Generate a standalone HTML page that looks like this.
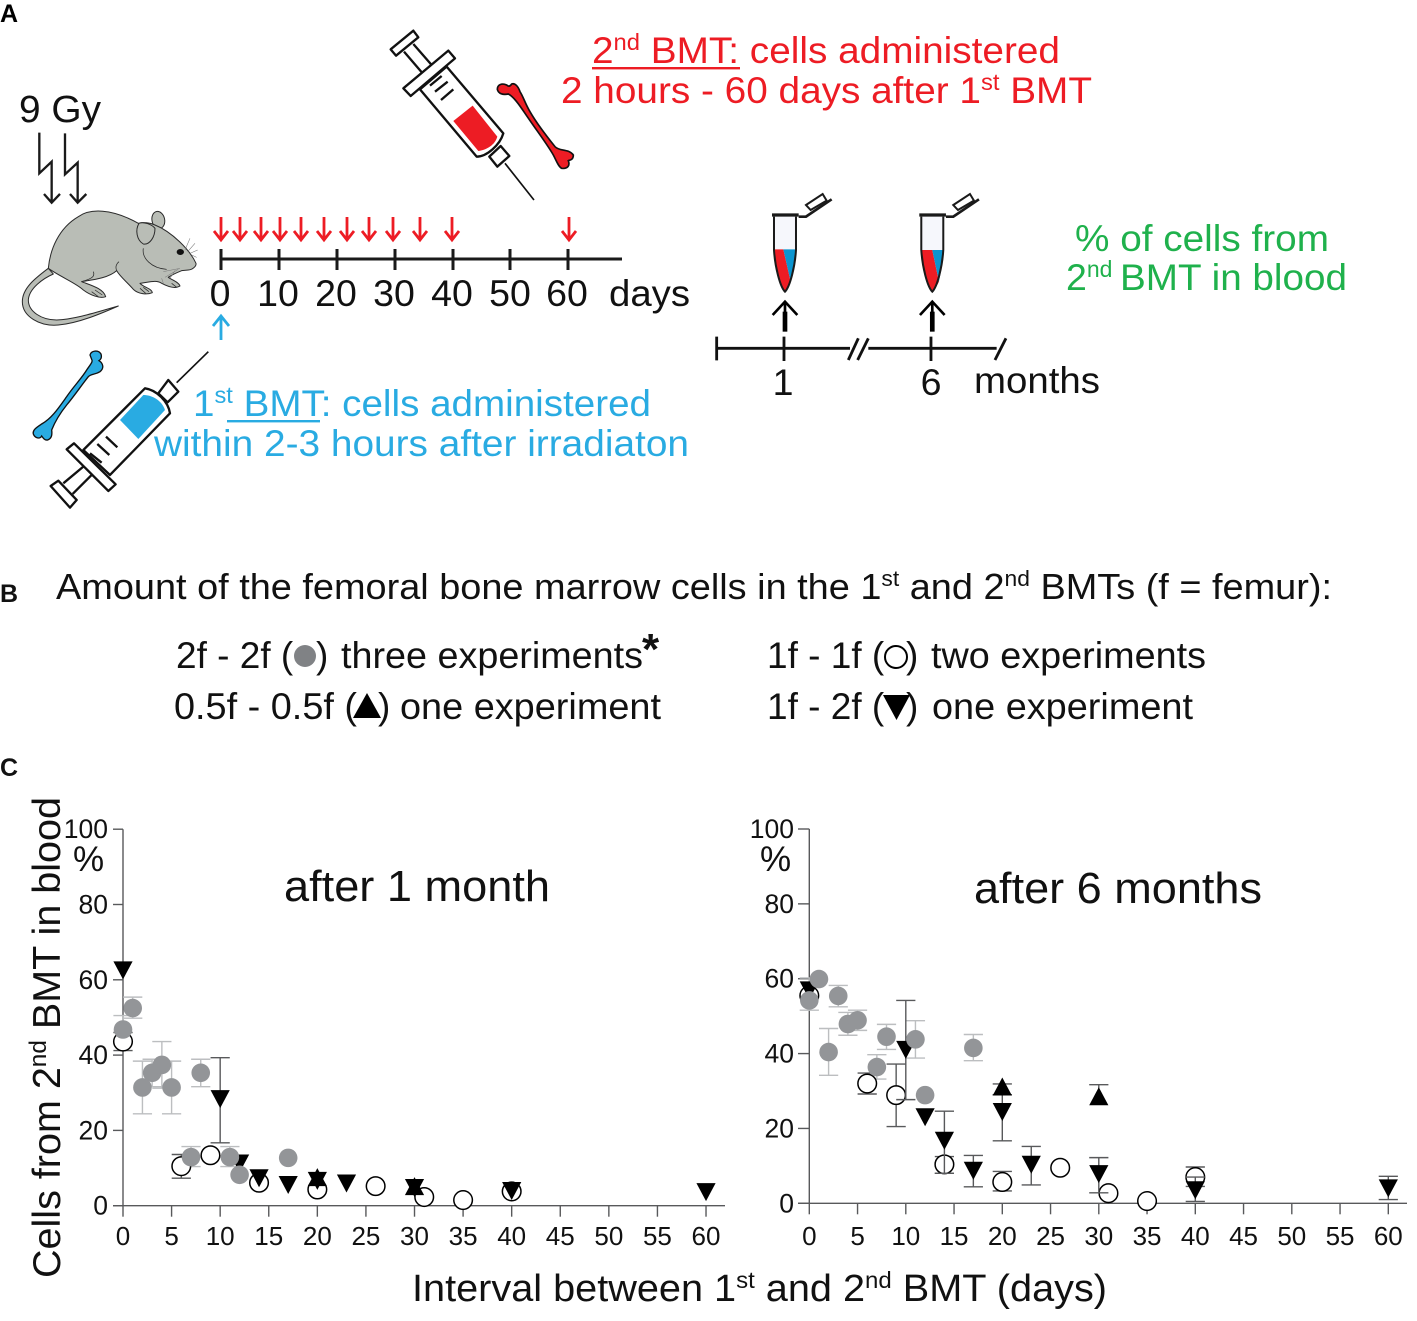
<!DOCTYPE html>
<html lang="en">
<head>
<meta charset="utf-8">
<title>BMT interval figure</title>
<style>
html,body{margin:0;padding:0;background:#fff;}
svg{display:block;}
text{font-family:"Liberation Sans",Arial,sans-serif;}
</style>
</head>
<body>
<svg id="fig" xmlns="http://www.w3.org/2000/svg" width="1417" height="1321" viewBox="0 0 1417 1321">
<rect width="1417" height="1321" fill="#fff"/>

<!-- PANEL A -->
<g>
<text x="0" y="22" font-size="25" font-weight="bold">A</text>
<text x="19" y="122" font-size="38" fill="#111" textLength="82" lengthAdjust="spacingAndGlyphs">9 Gy</text>

<g transform="translate(0,80) scale(.3333)" fill="none" stroke="#1a1a1a" stroke-width="7">
<path d="M118 158V280L155 245V368M132 342L155 368L180 342"/>
<path d="M195 160V283L233 248V368M210 342L233 368L259 342"/>
</g>

<g transform="translate(15,200) scale(.3333)" stroke="#2a2a2a" stroke-width="3" fill="#b9bdb6" stroke-linejoin="round">
<path d="M100 205C60 235 22 265 22 305C22 350 75 380 130 375C190 370 260 340 310 318C250 335 180 358 125 360C80 360 40 335 40 300C42 265 85 235 115 222Z"/>
<ellipse cx="430" cy="60" rx="19" ry="26" transform="rotate(-12 430 60)"/>
<path d="M100 205C105 150 130 85 190 50C225 25 290 25 370 70C385 66 405 68 420 75C470 95 525 150 543 190C545 200 530 210 520 210L500 212C480 220 470 225 460 232C470 240 490 245 495 258C480 268 455 258 440 250C425 240 410 245 375 250C385 262 410 265 412 278C395 285 370 282 355 268C335 245 315 230 305 212C280 235 230 240 200 245C225 255 265 265 272 290C255 297 225 285 205 270C185 250 135 230 100 205Z"/>
<path d="M372 70C360 90 365 120 385 132C405 135 420 110 420 85C410 72 385 65 372 70Z"/>
<path d="M385 145C380 175 410 205 455 208M235 215C240 228 235 235 200 245M305 212C300 200 305 190 312 185M230 275L250 290M240 270L262 285M375 265L392 280M385 262L402 275M470 250L485 262" fill="none" stroke-width="2.2"/>
<ellipse cx="496" cy="156" rx="11" ry="9" fill="#111" stroke="none"/>
<path d="M510 150L525 115M518 155L540 130M525 160L548 150M530 165L545 172M495 205L445 215M490 208L450 232M480 212L465 235M440 235L445 250" fill="none" stroke-width="1.6" stroke="#777"/>
</g>

<g transform="translate(380,20) scale(.3333)" fill="#fff" stroke="#111" stroke-width="7" stroke-linejoin="round">
<path d="M375 430L462 540" stroke-width="5"/>
<path d="M328 410L352 440L388 408L362 378Z"/>
<path d="M72 95L128 160M100 72L155 135" fill="none"/>
<path d="M32 88L100 32L115 52L48 107Z"/>
<path d="M120 208L290 410C320 410 360 375 370 340L200 140Z"/>
<path d="M70 205L205 92L225 115L92 228Z"/>
<path d="M220 303L278 257L352 350C345 375 320 390 295 393Z" fill="#ed1c24" stroke="none"/>
<path d="M150 197L185 168M165 215L203 185M183 240L220 208" fill="none"/>
</g>
<path transform="translate(490,70) scale(.3333)" d="M22 58C22 45 35 38 50 45C55 50 60 50 65 42C75 38 85 50 90 65C100 80 105 100 120 125C140 160 175 205 195 230C210 245 235 235 250 255C250 270 240 270 235 272C240 285 235 297 215 295C205 290 198 270 190 255C170 220 135 175 105 130C85 100 70 80 55 72C40 75 25 72 22 58Z" fill="#ed1c24" stroke="#111" stroke-width="5"/>

<g transform="translate(20,340) scale(.3333)" fill="#fff" stroke="#111" stroke-width="7" stroke-linejoin="round">
<path d="M470 128L565 35" stroke-width="5"/>
<path d="M415 160L445 120L475 155L443 187Z"/>
<path d="M130 430L190 380M158 462L215 405" fill="none"/>
<path d="M92 438L115 422L170 480L150 503Z"/>
<path d="M190 330L375 145C410 150 445 185 450 220L270 405Z"/>
<path d="M140 328L162 310L287 433L265 453Z"/>
<path d="M300 240L370 165C395 165 425 180 435 210L355 297Z" fill="#29abe2" stroke="none"/>
<path d="M210 340L245 368M232 312L268 345M258 290L292 322" fill="none"/>
</g>
<path transform="translate(25,340) scale(.3333)" d="M195 45C198 32 220 28 228 42C232 55 225 60 222 62C235 70 238 85 225 95C210 105 200 100 190 110C170 135 150 165 125 195C105 220 90 245 80 270C82 285 80 295 68 300C60 302 55 295 50 288C45 298 30 295 25 282C22 270 35 262 50 252C80 235 100 205 125 170C145 140 170 115 185 90C195 75 205 65 200 58Z" fill="#29abe2" stroke="#111" stroke-width="4"/>

<g fill="#ed1c24" font-size="37.5">
<text x="592" y="63" textLength="468" lengthAdjust="spacingAndGlyphs">2<tspan font-size="23" dy="-13">nd</tspan><tspan dy="13"> BMT: cells administered</tspan></text>
<text x="561" y="103" textLength="531" lengthAdjust="spacingAndGlyphs">2 hours - 60 days after 1<tspan font-size="23" dy="-13">st</tspan><tspan dy="13"> BMT</tspan></text>
<rect x="592" y="67" width="148" height="2.4" fill="#ed1c24"/>
</g>

<g fill="#29abe2" font-size="37.5">
<text x="193" y="416" textLength="458" lengthAdjust="spacingAndGlyphs">1<tspan font-size="23" dy="-13">st</tspan><tspan dy="13"> BMT: cells administered</tspan></text>
<text x="154" y="456" textLength="535" lengthAdjust="spacingAndGlyphs">within 2-3 hours after irradiaton</text>
<rect x="227" y="420" width="93" height="2.4" fill="#29abe2"/>
</g>

<g fill="#1fb14c" font-size="37.5">
<text x="1075" y="251" textLength="254" lengthAdjust="spacingAndGlyphs">% of cells from</text>
<text x="1066" y="290">2<tspan font-size="23" dy="-13">nd</tspan></text>
<text x="1120" y="290" textLength="227" lengthAdjust="spacingAndGlyphs">BMT in blood</text>
</g>

<g>
<path d="M221 259H622M221 249V270M279 249V270M337 249V270M395 249V270M453 249V270M510 249V270M568 249V270" fill="none" stroke="#1a1a1a" stroke-width="3"/>
<g font-size="37.5" fill="#111" text-anchor="middle">
<text x="220" y="306">0</text>
<text x="278" y="306">10</text>
<text x="336" y="306">20</text>
<text x="394" y="306">30</text>
<text x="452" y="306">40</text>
<text x="510" y="306">50</text>
<text x="567" y="306">60</text>
<text x="649.5" y="306" textLength="81" lengthAdjust="spacingAndGlyphs">days</text>
</g>
<path fill="none" stroke="#ed1c24" stroke-width="2.8" d="M221 217V240M214 231L221 240L228 231M240 217V240M233 231L240 240L247 231M261 217V240M254 231L261 240L268 231M280 217V240M273 231L280 240L287 231M301 217V240M294 231L301 240L308 231M324 217V240M317 231L324 240L331 231M347 217V240M340 231L347 240L354 231M369 217V240M362 231L369 240L376 231M393 217V240M386 231L393 240L400 231M420 217V240M413 231L420 240L427 231M452 217V240M445 231L452 240L459 231M569 217V240M562 231L569 240L576 231"/>
<path fill="none" stroke="#29abe2" stroke-width="2.8" d="M221 317V340M213 326L221 316L229 326"/>
</g>

<g>
<g transform="translate(700,180) scale(.3333)" fill="none" stroke="#111" stroke-width="8.5">
<path d="M50 505H450M50 470V541M252 470V543M505 505H890M693 470V543M445 540L475 475M473 540L505 475M885 540L918 475"/>
</g>
<g id="tube1" transform="translate(700,180) scale(.3333)" stroke="#1a1a1a">
<path d="M222 110V210C225 260 240 320 255 335C270 320 285 260 288 210V110Z" fill="#f6f7fc" stroke-width="0"/>
<path d="M224 208H250L272 305C268 320 260 332 255 334C240 320 226 260 224 208Z" fill="#ed1c24" stroke="none"/>
<path d="M250 208H287C286 240 280 280 272 305Z" fill="#0a94cf" stroke="none"/>
<path d="M222 110V210C225 260 240 320 255 335C270 320 285 260 288 210V110" fill="none" stroke-width="6"/>
<path d="M216 105H296" fill="none" stroke-width="10"/>
<path d="M296 110H318L395 58" fill="none" stroke-width="8"/>
<path d="M318 75L368 42L380 62L332 90Z" fill="#fff" stroke-width="6"/>
<path d="M255 440V365M218 405L255 365L292 405" fill="none" stroke="#000" stroke-width="8"/>
<path d="M255 455V395" fill="none" stroke="#000" stroke-width="14"/>
</g>
<g id="tube2" transform="translate(847.3,180) scale(.3333)" stroke="#1a1a1a">
<path d="M222 110V210C225 260 240 320 255 335C270 320 285 260 288 210V110Z" fill="#f6f7fc" stroke-width="0"/>
<path d="M224 210H255L275 305C268 320 260 332 255 334C240 320 226 260 224 210Z" fill="#ed1c24" stroke="none"/>
<path d="M255 210H287C286 240 282 270 275 305Z" fill="#0a94cf" stroke="none"/>
<path d="M222 110V210C225 260 240 320 255 335C270 320 285 260 288 210V110" fill="none" stroke-width="6"/>
<path d="M216 105H296" fill="none" stroke-width="10"/>
<path d="M296 110H318L395 58" fill="none" stroke-width="8"/>
<path d="M318 75L368 42L380 62L332 90Z" fill="#fff" stroke-width="6"/>
<path d="M255 440V365M218 405L255 365L292 405" fill="none" stroke="#000" stroke-width="8"/>
<path d="M255 455V395" fill="none" stroke="#000" stroke-width="14"/>
</g>
<g font-size="37.5" fill="#111">
<text x="783" y="395" text-anchor="middle">1</text>
<text x="931" y="395" text-anchor="middle">6</text>
<text x="974" y="393" textLength="126" lengthAdjust="spacingAndGlyphs">months</text>
</g>
</g>
</g>

<!-- PANEL B -->
<g fill="#111">
<text x="0" y="602" font-size="25" font-weight="bold">B</text>
<text x="56" y="599" font-size="36.5" textLength="1276" lengthAdjust="spacingAndGlyphs">Amount of the femoral bone marrow cells in the 1<tspan font-size="22" dy="-13">st</tspan><tspan dy="13"> and 2</tspan><tspan font-size="22" dy="-13">nd</tspan><tspan dy="13"> BMTs (f = femur):</tspan></text>
<g font-size="37">
<g>
<text x="176" y="668">2f - 2f (</text>
<circle cx="305" cy="656" r="11" fill="#808285"/>
<text x="316" y="668">)</text>
<text x="341" y="668" textLength="302" lengthAdjust="spacingAndGlyphs">three experiments</text>
<text x="642" y="664" font-size="44" font-weight="bold">*</text>
</g>
<g>
<text x="174" y="719" textLength="183" lengthAdjust="spacingAndGlyphs">0.5f - 0.5f (</text>
<path d="M353 718L367 693L381 718Z" fill="#000"/>
<text x="378" y="719">)</text>
<text x="400" y="719" textLength="261" lengthAdjust="spacingAndGlyphs">one experiment</text>
</g>
<g>
<text x="767" y="668">1f - 1f (</text>
<circle cx="896" cy="657" r="11" fill="none" stroke="#000" stroke-width="2"/>
<text x="906" y="668">)</text>
<text x="931" y="668" textLength="275" lengthAdjust="spacingAndGlyphs">two experiments</text>
</g>
<g>
<text x="767" y="719">1f - 2f (</text>
<path d="M883 695L910 695L896.5 720Z" fill="#000"/>
<text x="906" y="719">)</text>
<text x="932" y="719" textLength="261" lengthAdjust="spacingAndGlyphs">one experiment</text>
</g>
</g>
</g>

<!-- PANEL C -->
<g id="panelC" fill="#111">
<text x="0" y="776" font-size="25" font-weight="bold">C</text>
<text x="284" y="901" font-size="44" textLength="266" lengthAdjust="spacingAndGlyphs">after 1 month</text>
<text x="974" y="903" font-size="44" textLength="288" lengthAdjust="spacingAndGlyphs">after 6 months</text>
<text transform="translate(60,1278) rotate(-90)" font-size="39" textLength="481" lengthAdjust="spacingAndGlyphs">Cells from 2<tspan font-size="24" dy="-14">nd</tspan><tspan dy="14"> BMT in blood</tspan></text>
<text x="412" y="1301" font-size="38" textLength="695" lengthAdjust="spacingAndGlyphs">Interval between 1<tspan font-size="23" dy="-13">st</tspan><tspan dy="13"> and 2</tspan><tspan font-size="23" dy="-13">nd</tspan><tspan dy="13"> BMT (days)</tspan></text>
<text x="73" y="871" font-size="35">%</text>
<text x="760" y="871" font-size="35">%</text>
</g>
</svg>

<script>
// Shared tick labels
const xTickLabels = [0,5,10,15,20,25,30,35,40,45,50,55,60];
const yTickLabels = [0,20,40,60,80,100];

// After 1 month: grey circles (2f-2f)
const m1GrayDays = [0,1,2,3,4,5,7,8,11,12,17];
const m1GrayValues = [46.8,52.5,31.4,35.3,37.4,31.4,12.9,35.3,12.9,8.2,12.7];
const m1GrayHigh = [50.5,55.4,38.4,38.9,43.6,38.4,15.7,38.9,15.7,null,null];
const m1GrayLow = [42.9,49.8,24.4,31.6,31.2,24.4,10.4,31.6,10.4,null,null];
// After 1 month: open circles (1f-1f)
const m1OpenDays = [0,6,9,14,20,26,31,35,40];
const m1OpenValues = [43.6,10.5,13.4,6.1,4.3,5.2,2.3,1.5,3.8];
const m1OpenHigh = [46,13.6,null,null,null,null,null,null,null];
const m1OpenLow = [41.2,7.3,null,null,null,null,null,null,null];
// After 1 month: down triangles (1f-2f)
const m1DownDays = [0,10,12,14,17,20,23,30,40,60];
const m1DownValues = [62.5,28.3,11.2,7.3,5.5,6.6,5.9,4.7,3.9,3.6];
const m1DownHigh = [null,39.3,null,null,null,null,null,null,null,null];
const m1DownLow = [null,16.7,null,null,null,null,null,null,null,null];
// After 1 month: up triangles (0.5f-0.5f)
const m1UpDays = [20,30];
const m1UpValues = [7.6,5.2];
const m1UpHigh = [null,null];
const m1UpLow = [null,null];

// After 6 months: grey circles
const m6GrayDays = [0,1,2,3,4,5,7,8,11,12,17];
const m6GrayValues = [54.2,59.9,40.4,55.4,47.9,48.9,36.4,44.5,43.8,28.9,41.5];
const m6GrayHigh = [60.2,null,46.7,58.2,51,51.6,39.7,47.8,48.8,null,45.1];
const m6GrayLow = [51.6,null,34.2,52.5,44.9,46.2,33.2,41.1,38.8,null,38.1];
// After 6 months: open circles
const m6OpenDays = [0,6,9,14,20,26,31,35,40];
const m6OpenValues = [55.5,32,28.9,10.4,5.7,9.5,2.7,0.6,7];
const m6OpenHigh = [null,34.8,37.2,12.5,8.5,null,null,null,9.7];
const m6OpenLow = [null,29.2,20.5,8,3.3,null,null,null,4.5];
// After 6 months: down triangles
const m6DownDays = [0,10,12,14,17,20,23,30,40,60];
const m6DownValues = [56.9,41,23,16.7,8.7,24.4,10.3,7.8,3.5,4];
const m6DownHigh = [null,54.2,null,24.6,12.8,29,15.2,12.2,7,7.2];
const m6DownLow = [null,27.7,null,8,4.4,16.7,4.9,2.8,0.5,1];
// After 6 months: up triangles
const m6UpDays = [20,30];
const m6UpValues = [31.2,28.6];
const m6UpHigh = [31.9,31.7];
const m6UpLow = [29,null];

const svg = document.getElementById('fig');
const NS = 'http://www.w3.org/2000/svg';
const GRAY_ERR = '#bcbec0';
const DARK_ERR = '#58595b';
const CAP = 9.6;
const MARK_R = 9.3;
const TRI_W = 9.6;
const TRI_H = 9;

function make(tag, attrs, parent) {
  const el = document.createElementNS(NS, tag);
  for (const k in attrs) el.setAttribute(k, attrs[k]);
  parent.appendChild(el);
  return el;
}

function drawErrors(g, xFn, yFn, days, vals, high, low, color) {
  days.forEach(function (d, i) {
    if (high[i] == null && low[i] == null) return;
    const x = xFn(d);
    const top = high[i] == null ? yFn(vals[i]) : yFn(high[i]);
    const bot = low[i] == null ? yFn(vals[i]) : yFn(low[i]);
    let dStr = 'M' + x + ' ' + top + 'V' + bot;
    if (high[i] != null) dStr += 'M' + (x - CAP) + ' ' + top + 'H' + (x + CAP);
    if (low[i] != null) dStr += 'M' + (x - CAP) + ' ' + bot + 'H' + (x + CAP);
    const el = make('path', {d: dStr, fill: 'none', stroke: color, 'stroke-width': 1.4}, g);
    
    
  });
}

function drawOpen(g, xFn, yFn, days, vals) {
  days.forEach(function (d, i) {
    const el = make('circle', {cx: xFn(d), cy: yFn(vals[i]), r: MARK_R, fill: '#fff', stroke: '#000', 'stroke-width': 1.5}, g);
    
    
  });
}

function drawGray(g, xFn, yFn, days, vals) {
  days.forEach(function (d, i) {
    const el = make('circle', {cx: xFn(d), cy: yFn(vals[i]), r: MARK_R, fill: '#939598'}, g);
    
    
  });
}

function drawDown(g, xFn, yFn, days, vals) {
  days.forEach(function (d, i) {
    const x = xFn(d), y = yFn(vals[i]);
    const pts = (x - TRI_W) + ',' + (y - TRI_H) + ' ' + (x + TRI_W) + ',' + (y - TRI_H) + ' ' + x + ',' + (y + TRI_H);
    const el = make('polygon', {points: pts, fill: '#000'}, g);
    
    
  });
}

function drawUp(g, xFn, yFn, days, vals) {
  days.forEach(function (d, i) {
    const x = xFn(d), y = yFn(vals[i]);
    const pts = (x - TRI_W) + ',' + (y + TRI_H) + ' ' + (x + TRI_W) + ',' + (y + TRI_H) + ' ' + x + ',' + (y - TRI_H);
    const el = make('polygon', {points: pts, fill: '#000'}, g);
    
    
  });
}

function drawAxes(g, xFn, yFn, xEnd, yTickLeft, yLabelRight) {
  const x0 = xFn(0), y0 = yFn(0), yTop = yFn(100);
  const yAxis = make('path', {d: 'M' + x0 + ' ' + yTop + 'V' + y0, stroke: '#58595b', 'stroke-width': 1.4, fill: 'none'}, g);
  
  
  const xAxis = make('path', {d: 'M' + yTickLeft + ' ' + y0 + 'H' + xEnd, stroke: '#58595b', 'stroke-width': 1.4, fill: 'none'}, g);
  
  
  xTickLabels.forEach(function (v) {
    const x = xFn(v);
    const t = make('path', {d: 'M' + x + ' ' + y0 + 'V' + (y0 + 11), stroke: '#58595b', 'stroke-width': 1.4, fill: 'none'}, g);
    
    
    const l = make('text', {x: x, y: 1245, 'font-size': 26, 'text-anchor': 'middle', fill: '#111'}, g);
    
    
    l.textContent = String(v);
  });
  yTickLabels.forEach(function (v) {
    const y = yFn(v);
    const t = make('path', {d: 'M' + yTickLeft + ' ' + y + 'H' + x0, stroke: '#58595b', 'stroke-width': 1.4, fill: 'none'}, g);
    
    
    const l = make('text', {x: yLabelRight, y: y + 9, 'font-size': 26.5, 'text-anchor': 'end', fill: '#111'}, g);
    
    
    l.textContent = String(v);
  });
}

// Axis functions
function xLeft(v) { return 123 + v * 9.717; }
function yLeft(v) { return 1205.7 - v * 3.765; }
function xRight(v) { return 809.3 + v * 9.65; }
function yRight(v) { return 1203.3 - v * 3.743; }

const leftChart = make('g', {}, svg);


drawAxes(leftChart, xLeft, yLeft, 725, 113, 108);
drawErrors(leftChart, xLeft, yLeft, m1GrayDays, m1GrayValues, m1GrayHigh, m1GrayLow, GRAY_ERR);
drawErrors(leftChart, xLeft, yLeft, m1OpenDays, m1OpenValues, m1OpenHigh, m1OpenLow, DARK_ERR);
drawOpen(leftChart, xLeft, yLeft, m1OpenDays, m1OpenValues);
drawErrors(leftChart, xLeft, yLeft, m1DownDays, m1DownValues, m1DownHigh, m1DownLow, DARK_ERR);
drawErrors(leftChart, xLeft, yLeft, m1UpDays, m1UpValues, m1UpHigh, m1UpLow, DARK_ERR);
drawDown(leftChart, xLeft, yLeft, m1DownDays, m1DownValues);
drawUp(leftChart, xLeft, yLeft, m1UpDays, m1UpValues);
drawGray(leftChart, xLeft, yLeft, m1GrayDays, m1GrayValues);

const rightChart = make('g', {}, svg);


drawAxes(rightChart, xRight, yRight, 1407, 798, 794);
drawErrors(rightChart, xRight, yRight, m6GrayDays, m6GrayValues, m6GrayHigh, m6GrayLow, GRAY_ERR);
drawErrors(rightChart, xRight, yRight, m6OpenDays, m6OpenValues, m6OpenHigh, m6OpenLow, DARK_ERR);
drawOpen(rightChart, xRight, yRight, m6OpenDays, m6OpenValues);
drawErrors(rightChart, xRight, yRight, m6DownDays, m6DownValues, m6DownHigh, m6DownLow, DARK_ERR);
drawErrors(rightChart, xRight, yRight, m6UpDays, m6UpValues, m6UpHigh, m6UpLow, DARK_ERR);
drawDown(rightChart, xRight, yRight, m6DownDays, m6DownValues);
drawUp(rightChart, xRight, yRight, m6UpDays, m6UpValues);
drawGray(rightChart, xRight, yRight, m6GrayDays, m6GrayValues);
</script>
</body>
</html>
